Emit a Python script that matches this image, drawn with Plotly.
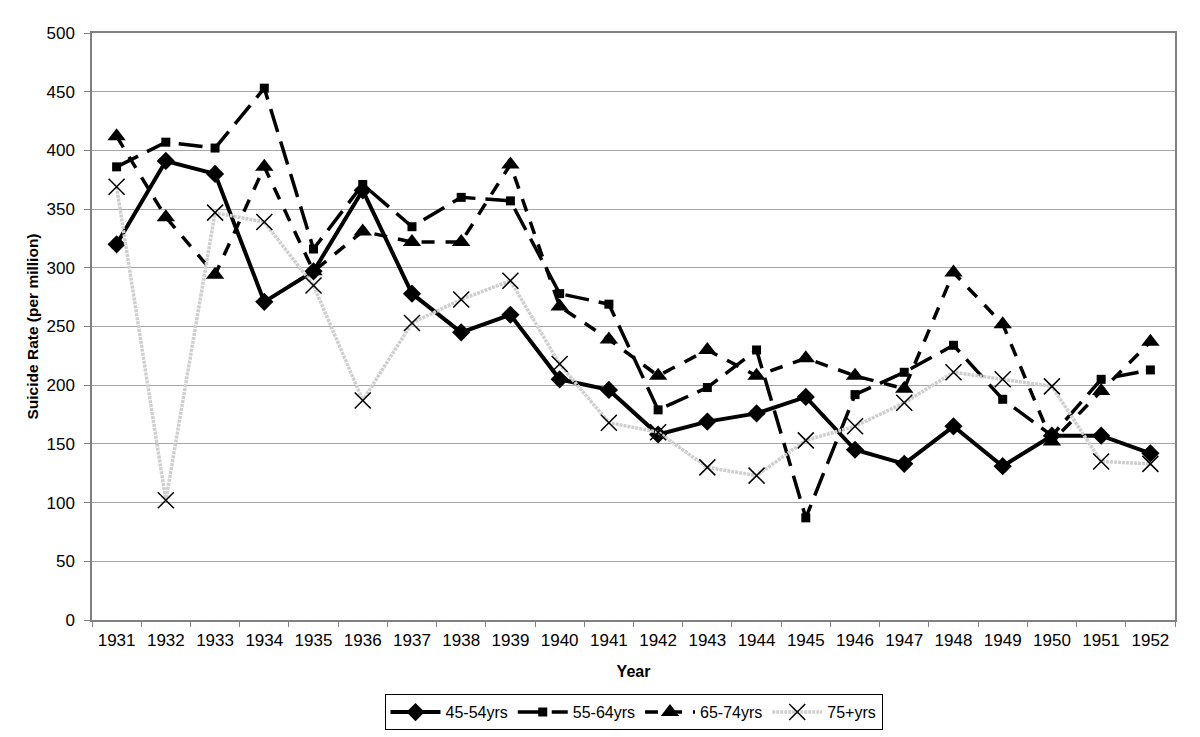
import plotly.graph_objects as go

years = [str(y) for y in range(1931, 1953)]
s45_54 = [320, 391, 380, 271, 297, 366, 278, 245, 260, 205, 196, 158, 169, 176, 190, 145, 133, 165, 131, 157, 157, 142]
s55_64 = [386, 407, 402, 453, 316, 371, 335, 360, 357, 278, 269, 179, 198, 230, 87, 192, 211, 234, 188, 157, 205, 213]
s65_74 = [412, 343, 294, 386, 297, 331, 322, 322, 388, 267, 239, 208, 230, 208, 223, 208, 197, 296, 252, 152, 195, 237]
s75p = [369, 102, 347, 339, 285, 187, 253, 273, 289, 218, 168, 160, 130, 123, 153, 165, 185, 211, 205, 199, 135, 133]

fig = go.Figure()
fig.add_trace(go.Scatter(x=years, y=s45_54, name="45-54yrs", mode="lines+markers",
                         line=dict(color="black", width=4),
                         marker=dict(symbol="diamond", size=14, color="black")))
fig.add_trace(go.Scatter(x=years, y=s55_64, name="55-64yrs", mode="lines+markers",
                         line=dict(color="black", width=3.5, dash="24px,10px"),
                         marker=dict(symbol="square", size=9, color="black")))
fig.add_trace(go.Scatter(x=years, y=s65_74, name="65-74yrs", mode="lines+markers",
                         line=dict(color="black", width=3.5, dash="13px,11px"),
                         marker=dict(symbol="triangle-up", size=16, color="black")))
fig.add_trace(go.Scatter(x=years, y=s75p, name="75+yrs", mode="lines+markers",
                         line=dict(color="#cfcfcf", width=3.5, dash="3px,1px"),
                         marker=dict(symbol="x-thin-open", size=16, color="black",
                                     line=dict(color="black", width=1.5))))

fig.update_layout(
    width=1200, height=737,
    paper_bgcolor="white", plot_bgcolor="white",
    margin=dict(l=84, r=33, t=25, b=125),
    font=dict(family="Liberation Sans, Arial, sans-serif", size=16, color="black"),
    showlegend=True,
    legend=dict(orientation="h", x=0.5, xanchor="center", y=-0.157, yanchor="middle",
                bordercolor="black", borderwidth=1, font=dict(size=16),
                itemwidth=50, tracegroupgap=0),
)
fig.update_xaxes(type="category", range=[-0.5, 21.5], showgrid=False, showline=True,
                 linecolor="#808080", linewidth=1.5, automargin=False,
                 mirror=True, ticks="outside", tickson="boundaries", ticklen=5, tickcolor="#808080",
                 ticklabelstandoff=4,
                 title=dict(text="<b>Year</b>", font=dict(size=16), standoff=17),
                 tickfont=dict(size=17))
fig.update_yaxes(range=[0, 500], dtick=50, showgrid=True, gridcolor="#a6a6a6", gridwidth=1,
                 showline=True, linecolor="#808080", linewidth=1.5, mirror=True, automargin=False,
                 ticks="outside", ticklen=6, tickcolor="#808080", zeroline=False,
                 ticklabelstandoff=6,
                 title=dict(text="<b>Suicide Rate (per million)</b>", font=dict(size=15.5), standoff=4),
                 tickfont=dict(size=17))

fig.write_html("out.html")
